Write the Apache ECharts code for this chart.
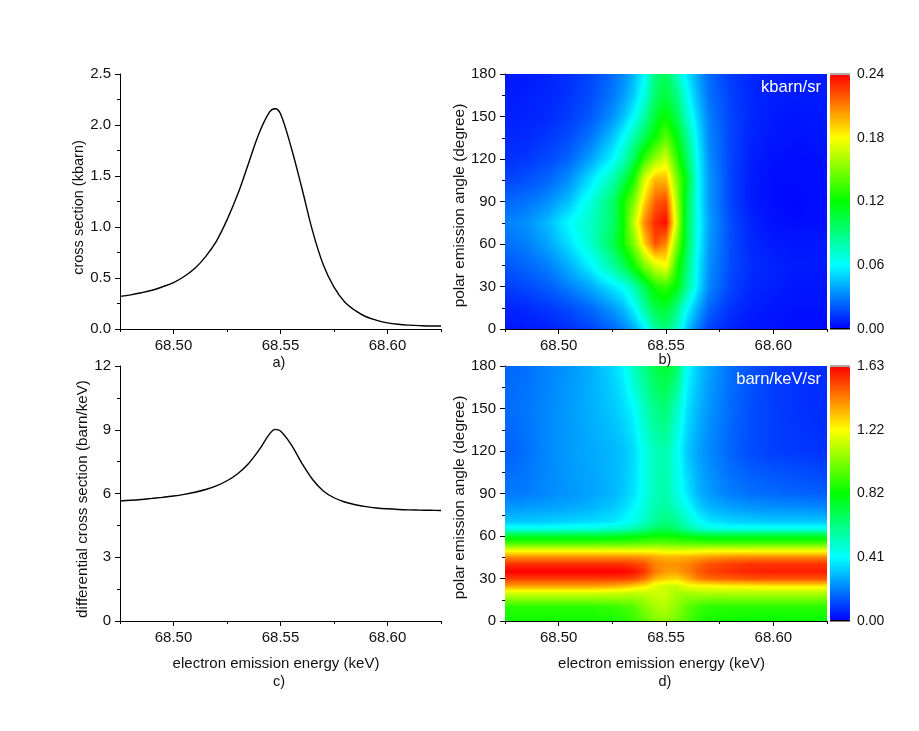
<!DOCTYPE html>
<html><head><meta charset="utf-8">
<script src="https://cdn.jsdelivr.net/npm/echarts@6/dist/echarts.min.js"></script>
<style>html,body{margin:0;padding:0;background:#fff}#c{width:919px;height:731px}</style>
</head><body><div id="c"></div>
<script>
// line panels
const lineEnergy = [68.475,68.48,68.485,68.49,68.495,68.50,68.505,68.51,68.515,68.52,68.525,68.53,68.535,68.54,68.545,68.5475,68.55,68.555,68.56,68.565,68.57,68.575,68.58,68.585,68.59,68.595,68.60,68.605,68.61,68.615,68.62,68.625];
const crossSection = [0.32,0.335,0.355,0.38,0.415,0.455,0.515,0.595,0.71,0.86,1.07,1.32,1.62,1.92,2.13,2.16,2.11,1.78,1.38,0.96,0.63,0.41,0.265,0.18,0.12,0.085,0.06,0.046,0.038,0.033,0.03,0.03];
const diffCrossSection = [5.65,5.68,5.72,5.77,5.82,5.88,5.96,6.06,6.19,6.36,6.6,6.93,7.4,8.05,8.82,9.02,8.94,8.3,7.42,6.66,6.12,5.8,5.6,5.47,5.38,5.32,5.28,5.25,5.23,5.22,5.21,5.2];
// map panels: columns
const mapEnergy = [68.475,68.485,68.495,68.505,68.515,68.525,68.53,68.535,68.54,68.545,68.55,68.555,68.56,68.565,68.57,68.58,68.59,68.60,68.61,68.625];
// panel b, barn/sr (colour bar is in kbarn/sr)
const anglesB = [0,15,30,45,60,75,90,105,120,135,150,165,180];
const valuesB = [
[5,6,8,11,16,24,30,40,56,84,92,74,46,28,16,8,5,4,3,3],
[8,10,13,18,25,36,44,58,82,104,110,90,60,40,24,12,7,5,4,4],
[14,17,22,30,40,54,62,78,102,126,132,118,84,54,32,16,9,7,5,5],
[20,24,30,42,58,82,100,122,150,170,180,130,92,56,34,18,10,8,6,6],
[26,30,39,53,72,100,122,150,190,222,208,150,100,60,36,18,9,6,5,6],
[30,34,44,60,74,94,120,165,208,230,238,168,100,62,38,18,8,4,3,4],
[24,27,34,46,68,95,122,150,190,218,224,160,102,60,36,16,6,3,2,4],
[16,19,24,34,54,78,100,126,172,198,198,150,110,60,36,16,6,3,3,4],
[11,13,17,24,38,58,74,100,132,155,170,132,96,58,34,16,7,4,3,4],
[9,10,13,18,28,46,60,80,102,122,142,118,86,54,32,16,8,5,4,5],
[7,8,10,14,21,34,45,60,82,108,122,102,72,48,30,16,9,6,5,6],
[6,7,9,12,18,28,36,48,66,96,106,90,62,42,27,15,9,7,6,6],
[5,6,8,11,16,25,32,43,60,90,100,76,54,38,25,14,9,7,6,6]
];
// panel d, hundredths of barn/keV/sr
const anglesD = [0,10,20,25,30,35,40,45,50,55,60,65,70,80,90,120,150,180];
const valuesD = [
[84,84,84,84,84,85,87,90,96,102,104,100,94,88,85,83,82,82,82,82],
[88,88,88,88,88,90,92,95,102,108,110,104,96,91,88,88,88,88,88,88],
[116,116,116,116,116,115,114,112,113,115,114,108,108,110,110,110,110,110,110,110],
[138,138,138,138,138,136,134,130,126,118,114,114,120,122,122,124,125,126,126,126],
[153,153,153,153,153,153,153,151,145,134,130,128,135,142,146,148,150,150,150,150],
[163,163,163,163,163,163,162,160,154,143,138,138,142,148,152,155,157,158,158,158],
[155,155,155,155,155,155,155,153,150,142,140,140,142,146,150,153,155,155,155,155],
[140,140,140,140,140,140,140,140,139,136,134,134,135,136,138,140,141,141,141,141],
[118,118,118,118,118,118,118,118,118,118,116,116,116,117,118,118,118,118,118,118],
[92,92,92,92,92,93,93,94,95,96,96,95,94,93,92,92,92,92,92,92],
[74,74,74,74,74,75,76,78,80,82,82,81,78,76,74,74,74,74,74,74],
[45,45,45,46,47,49,51,55,60,66,68,64,57,50,47,45,45,45,45,45],
[32,32,33,34,35,37,40,44,50,58,62,58,50,42,37,34,33,32,32,32],
[24,25,26,27,29,32,35,40,47,54,56,50,43,34,29,26,24,23,23,22],
[19,20,22,24,26,29,32,36,44,52,54,46,37,29,25,20,18,17,16,15],
[15,18,22,25,27,29,31,35,44,52,54,43,32,26,22,16,12,10,9,8],
[17,19,22,25,28,32,35,40,52,60,63,50,36,29,24,17,12,10,8,7],
[16,18,21,24,28,34,39,52,60,70,74,66,41,32,26,18,13,10,8,7]
];
const ticksB = [0,0.06,0.12,0.18,0.24];
const ticksD = [0,0.41,0.82,1.22,1.63];
const energyLabels = [68.50,68.55,68.60];
const energyMinor = [68.475,68.525,68.575,68.625];
const rainbow = ['#0000ff','#00ffff','#00ff00','#ffff00','#ff0000'];

const FONT = 'Liberation Sans';
const INK = '#111';
const XMIN = 68.475, XMAX = 68.625;

function mixColor(f){
  f = Math.max(0, Math.min(1, f)) * 4;
  const i = Math.min(3, Math.floor(f)), t = f - i;
  const hex = s => [1,3,5].map(k => parseInt(s.substr(k,2),16));
  const a = hex(rainbow[i]), b = hex(rainbow[i+1]);
  return a.map((v,k) => Math.round(v + (b[k]-v)*t));
}
function mapData(rows, angles, scale){
  const out = [];
  rows.forEach((r,j) => r.forEach((v,i) => out.push([mapEnergy[i], angles[j], v*scale, i, j])));
  return out;
}
function cellRenderer(rows, angles, scale, max){
  return function(params, api){
    const i = api.value(3), j = api.value(4);
    if (i >= mapEnergy.length-1 || j >= angles.length-1) return null;
    const p0 = api.coord([mapEnergy[i], angles[j]]);
    const p1 = api.coord([mapEnergy[i+1], angles[j+1]]);
    const x0 = Math.round(p0[0]), x1 = Math.round(p1[0]);
    const y1 = Math.round(p0[1]), y0 = Math.round(p1[1]);
    const w = x1-x0, h = y1-y0;
    if (w <= 0 || h <= 0) return null;
    const cv = document.createElement('canvas'); cv.width = w; cv.height = h;
    const ctx = cv.getContext('2d'), img = ctx.createImageData(w,h);
    const a = rows[j][i]*scale, b = rows[j][i+1]*scale, c = rows[j+1][i]*scale, d = rows[j+1][i+1]*scale;
    for (let yy=0; yy<h; yy++){
      const ty = (y1-(y0+yy+0.5))/(p0[1]-p1[1]);
      for (let xx=0; xx<w; xx++){
        const tx = (x0+xx+0.5-p0[0])/(p1[0]-p0[0]);
        const v = (a*(1-tx)+b*tx)*(1-ty)+(c*(1-tx)+d*tx)*ty;
        const col = mixColor(v/max), k = (yy*w+xx)*4;
        img.data[k]=col[0]; img.data[k+1]=col[1]; img.data[k+2]=col[2]; img.data[k+3]=255;
      }
    }
    ctx.putImageData(img,0,0);
    return {type:'image', silent:true, style:{image:cv, x:x0, y:y0, width:w, height:h}};
  };
}

const grids = [
  {left:120, top:74,  width:321, height:255},
  {left:505, top:74,  width:322, height:255},
  {left:120, top:366, width:321, height:255},
  {left:505, top:366, width:322, height:255},
  {left:850, top:74,  width:1, height:255},
  {left:850, top:366, width:1, height:255}
];
const lbl = {color:INK, fontFamily:FONT, fontSize:15};
const axLine = {show:true, onZero:false, lineStyle:{color:'#000', width:1}};
const nameStyle = (pad,size) => ({color:INK, fontFamily:FONT, fontSize:size, padding:pad});

function xMajor(g, title){
  const o = {type:'value', gridIndex:g, min:XMIN, max:XMAX, position:'bottom',
    axisLine:axLine, splitLine:{show:false},
    axisTick:{show:true, length:5, customValues:energyLabels, lineStyle:{color:'#000'}},
    axisLabel:Object.assign({margin:9, customValues:energyLabels, formatter:v=>v.toFixed(2)}, lbl)};
  if (title){ o.name=title; o.nameLocation='middle'; o.nameGap=35; o.nameTextStyle=nameStyle([0,9,0,0],15); }
  return o;
}
function xMinor(g){
  return {type:'value', gridIndex:g, min:XMIN, max:XMAX, position:'bottom',
    axisLine:{show:false}, splitLine:{show:false}, axisLabel:{show:false},
    axisTick:{show:true, length:3, customValues:energyMinor, lineStyle:{color:'#000'}}};
}
function yAx(g, max, step, fmt, title, gap, pad, size){
  return {type:'value', gridIndex:g, min:0, max, interval:step, position:'left',
    name:title, nameLocation:'middle', nameGap:gap, nameTextStyle:nameStyle(pad,size),
    axisLine:axLine, splitLine:{show:false},
    axisTick:{show:true, length:5, lineStyle:{color:'#000'}},
    minorTick:{show:true, splitNumber:2, length:3, lineStyle:{color:'#000'}},
    axisLabel:Object.assign({margin:9, formatter:fmt}, lbl)};
}
function barAxis(g, max, ticks){
  return {type:'value', gridIndex:g, min:0, max, position:'right',
    axisLine:{show:false}, axisTick:{show:false}, splitLine:{show:false},
    axisLabel:{margin:6, customValues:ticks, formatter:v=>v.toFixed(2), color:INK, fontFamily:FONT, fontSize:14}};
}
const xAxes = [xMajor(0),xMinor(0),xMajor(1),xMinor(1),xMajor(2,'electron emission energy (keV)'),xMinor(2),xMajor(3,'electron emission energy (keV)'),xMinor(3),
  {gridIndex:4,show:false,type:'value'},{gridIndex:5,show:false,type:'value'}];
const yAxes = [
  yAx(0,2.5,0.5,v=>v.toFixed(1),'cross section (kbarn)',32,[0,12,0,0],14.5),
  yAx(1,180,30,v=>String(v),'polar emission angle (degree)',37,[0,8,0,0],15.4),
  yAx(2,12,3,v=>String(v),'differential cross section (barn/keV)',29,[0,11,0,0],15.2),
  yAx(3,180,30,v=>String(v),'polar emission angle (degree)',37,[0,8,0,0],15.4),
  barAxis(4,0.24,ticksB), barAxis(5,1.63,ticksD)
];
const lineSeries = (xi,yi,vals) => ({type:'line', xAxisIndex:xi, yAxisIndex:yi, showSymbol:false, smooth:0.36,
  data:lineEnergy.map((x,i)=>[x,vals[i]]), lineStyle:{color:'#000', width:1.4}, z:3});
const mapSeries = (xi,yi,rows,angles,scale,max) => ({type:'custom', xAxisIndex:xi, yAxisIndex:yi,
  data:mapData(rows,angles,scale), encode:{x:0,y:1}, silent:true, clip:true,
  renderItem:cellRenderer(rows,angles,scale,max), z:1});

const sub = (t,x,y) => ({type:'text', x, y, style:{text:t, fill:INK, font:'14.5px "'+FONT+'"', align:'center', verticalAlign:'middle'}, z:20});
const unit = (t,x,y) => ({type:'text', x, y, style:{text:t, fill:'#fff', font:'16.6px "'+FONT+'"', align:'right', verticalAlign:'middle'}, z:20});
const cap = (y,h,c) => ({type:'rect', shape:{x:830,y,width:20,height:h}, style:{fill:c}, z:20, silent:true});

const chart = echarts.init(document.getElementById('c'), null, {renderer:'canvas'});
chart.setOption({
  animation:false, backgroundColor:'#fff',
  grid:grids, xAxis:xAxes, yAxis:yAxes,
  visualMap:[
    {type:'continuous', seriesIndex:1, min:0, max:0.24, dimension:2, left:830, top:74, itemWidth:20, itemHeight:255, padding:0, calculable:false, hoverLink:false, text:null, inRange:{color:rainbow}},
    {type:'continuous', seriesIndex:3, min:0, max:1.63, dimension:2, left:830, top:366, itemWidth:20, itemHeight:255, padding:0, calculable:false, hoverLink:false, text:null, inRange:{color:rainbow}}
  ],
  series:[
    lineSeries(0,0,crossSection),
    mapSeries(2,1,valuesB,anglesB,0.001,0.24),
    lineSeries(4,2,diffCrossSection),
    mapSeries(6,3,valuesD,anglesD,0.01,1.63)
  ],
  graphic:[
    sub('a)',279,363), sub('b)',665,360), sub('c)',279,682), sub('d)',665,682),
    unit('kbarn/sr',821,87), unit('barn/keV/sr',821,379),
    cap(73,2,'#aaa'), cap(328,1.5,'#000'), cap(365,2,'#aaa'), cap(620,1.5,'#000')
  ]
});
</script></body></html>
